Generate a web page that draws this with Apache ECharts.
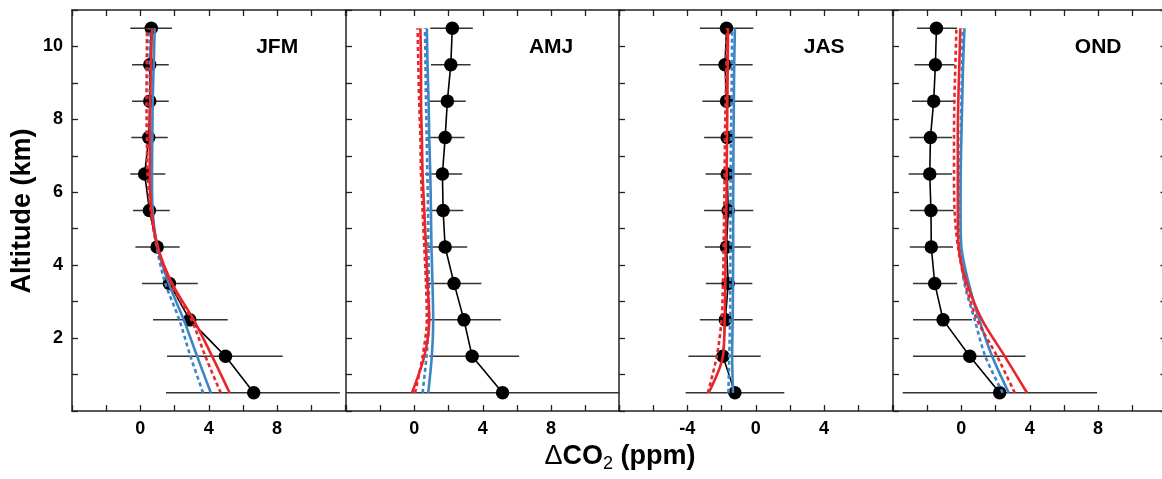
<!DOCTYPE html>
<html><head><meta charset="utf-8">
<script src="https://cdn.jsdelivr.net/npm/echarts@6/dist/echarts.min.js"></script>
<style>html,body{margin:0;padding:0;background:#fff}#c{width:1162px;height:479px}</style>
</head><body><div id="c"></div>
<script>
// ---------- data ----------
const altitudes = [0.5, 1.5, 2.5, 3.5, 4.5, 5.5, 6.5, 7.5, 8.5, 9.5, 10.5];
const seasons = ['JFM', 'AMJ', 'JAS', 'OND'];
const xRanges = [[-4, 12], [-4, 12], [-8, 8], [-4, 12]];
const xTickLabels = [[0, 4, 8], [0, 4, 8], [-4, 0, 4], [0, 4, 8]];
const yTickLabels = [2, 4, 6, 8, 10];

// observed ΔCO2 (bottom to top) with error bar ends
const obsJFM   = [6.63, 4.98, 2.89, 1.70, 0.98, 0.53, 0.25, 0.49, 0.55, 0.55, 0.64];
const errLoJFM = [1.50, 1.56, 0.74, 0.10, -0.29, -0.43, -0.59, -0.53, -0.49, -0.49, -0.59];
const errHiJFM = [11.67, 8.33, 5.11, 3.36, 2.30, 1.72, 1.46, 1.60, 1.66, 1.66, 1.85];

const obsAMJ   = [5.16, 3.38, 2.90, 2.32, 1.80, 1.68, 1.64, 1.80, 1.93, 2.13, 2.22];
const errLoAMJ = [-6.0, 0.87, 0.73, 0.68, 0.77, 0.68, 0.62, 0.77, 0.87, 0.97, 0.93];
const errHiAMJ = [16.0, 6.13, 5.06, 3.92, 3.09, 2.86, 2.80, 2.94, 3.00, 3.29, 3.42];

const obsJAS   = [-1.22, -1.92, -1.78, -1.61, -1.71, -1.61, -1.67, -1.67, -1.71, -1.80, -1.71];
const errLoJAS = [-4.10, -3.94, -3.27, -2.92, -2.98, -3.02, -2.94, -3.02, -3.12, -3.31, -3.27];
const errHiJAS = [1.67, 0.29, -0.18, -0.20, -0.29, -0.14, -0.24, -0.18, -0.18, -0.18, -0.14];

const obsOND   = [2.24, 0.49, -1.07, -1.56, -1.76, -1.78, -1.85, -1.81, -1.62, -1.52, -1.46];
const errLoOND = [-3.43, -2.83, -2.83, -2.83, -3.02, -3.02, -3.08, -3.04, -2.89, -2.75, -2.60];
const errHiOND = [7.94, 3.75, 0.62, -0.25, -0.49, -0.45, -0.55, -0.55, -0.35, -0.41, -0.25];

// model profiles (bottom to top)
const blueSolidJFM = [4.12, 3.32, 2.54, 1.66, 1.00, 0.72, 0.68, 0.70, 0.72, 0.78, 0.84];
const blueDashJFM  = [3.67, 2.93, 2.28, 1.46, 0.95, 0.68, 0.60, 0.57, 0.55, 0.54, 0.53];
const redSolidJFM  = [5.22, 4.20, 3.12, 1.85, 1.02, 0.65, 0.55, 0.55, 0.58, 0.62, 0.68];
const redDashJFM   = [4.70, 3.80, 2.99, 1.76, 0.98, 0.60, 0.42, 0.38, 0.36, 0.37, 0.39];

const blueSolidAMJ = [0.81, 1.02, 1.10, 1.06, 1.00, 0.97, 0.93, 0.87, 0.83, 0.77, 0.73];
const blueDashAMJ  = [0.48, 0.71, 0.85, 0.85, 0.82, 0.80, 0.76, 0.72, 0.68, 0.65, 0.62];
const redSolidAMJ  = [-0.14, 0.58, 0.87, 0.77, 0.68, 0.58, 0.48, 0.44, 0.39, 0.39, 0.35];
const redDashAMJ   = [0.04, 0.48, 0.73, 0.68, 0.58, 0.48, 0.39, 0.35, 0.28, 0.23, 0.19];

const blueSolidJAS = [-1.33, -1.38, -1.35, -1.33, -1.32, -1.32, -1.31, -1.30, -1.28, -1.26, -1.22];
const blueDashJAS  = [-1.60, -1.55, -1.50, -1.49, -1.48, -1.48, -1.47, -1.45, -1.42, -1.40, -1.38];
const redSolidJAS  = [-2.75, -1.92, -1.82, -1.78, -1.76, -1.72, -1.70, -1.68, -1.66, -1.64, -1.62];
const redDashJAS   = [-2.80, -2.28, -2.00, -1.92, -1.88, -1.85, -1.82, -1.80, -1.76, -1.72, -1.68];

const blueSolidOND = [2.77, 1.80, 1.05, 0.43, 0.00, -0.05, -0.04, 0.00, 0.05, 0.10, 0.18];
const blueDashOND  = [2.42, 1.40, 0.78, 0.18, -0.06, -0.06, -0.06, -0.04, 0.00, 0.04, 0.08];
const redSolidOND  = [3.84, 2.54, 1.21, 0.33, -0.16, -0.21, -0.21, -0.21, -0.18, -0.12, -0.06];
const redDashOND   = [3.12, 2.09, 0.92, 0.23, -0.20, -0.40, -0.43, -0.43, -0.41, -0.35, -0.29];

// ---------- build ----------
const obs = [obsJFM, obsAMJ, obsJAS, obsOND];
const errLo = [errLoJFM, errLoAMJ, errLoJAS, errLoOND];
const errHi = [errHiJFM, errHiAMJ, errHiJAS, errHiOND];
const models = [
  [blueDashJFM, blueSolidJFM, redDashJFM, redSolidJFM],
  [blueDashAMJ, blueSolidAMJ, redDashAMJ, redSolidAMJ],
  [blueDashJAS, blueSolidJAS, redDashJAS, redSolidJAS],
  [blueDashOND, blueSolidOND, redDashOND, redSolidOND]
];
const BLUE = '#3d86c6', RED = '#e8262b';
const modelStyles = [
  {color: BLUE, type: [4, 3]}, {color: BLUE, type: 'solid'},
  {color: RED, type: [4, 3]}, {color: RED, type: 'solid'}
];
const FONT = "'Liberation Sans', Arial, Helvetica, sans-serif";
const AXIS_COLOR = '#222';

const gridLefts = [72, 346, 619, 893];
const gridWidth = 273.5;
const gridTop = 10, gridHeight = 401;

const grid = [], xAxis = [], yAxis = [], series = [], graphic = [];
for (let i = 0; i < 4; i++) {
  grid.push({left: gridLefts[i], width: gridWidth, top: gridTop, height: gridHeight,
    containLabel: false, outerBoundsMode: 'none'});
  const baseX = {
    type: 'value', gridIndex: i, min: xRanges[i][0], max: xRanges[i][1], interval: 2,
    splitLine: {show: false},
    axisLine: {show: true, onZero: false, lineStyle: {color: AXIS_COLOR, width: 1.5}},
    axisTick: {show: true, inside: true, length: 6, lineStyle: {color: AXIS_COLOR, width: 1.3}}
  };
  const labs = xTickLabels[i];
  xAxis.push(Object.assign({}, baseX, {
    position: 'bottom',
    axisLabel: {show: true, margin: 9, color: '#000', fontFamily: FONT, fontWeight: 'bold', fontSize: 18,
      formatter: v => labs.indexOf(v) >= 0 ? String(v) : ''}
  }));
  xAxis.push(Object.assign({}, baseX, {position: 'top', axisLabel: {show: false}}));
  yAxis.push({
    type: 'value', gridIndex: i, min: 0, max: 11, interval: 1, position: 'left',
    splitLine: {show: false},
    axisLine: {show: true, onZero: false, lineStyle: {color: AXIS_COLOR, width: 1.5}},
    axisTick: {show: true, inside: true, length: 6, lineStyle: {color: AXIS_COLOR, width: 1.3}},
    axisLabel: {show: i === 0, margin: 9, color: '#000', fontFamily: FONT, fontWeight: 'bold', fontSize: 18,
      formatter: v => yTickLabels.indexOf(v) >= 0 ? String(v) : ''}
  });
}
// right frame of last panel
yAxis.push({
  type: 'value', gridIndex: 3, min: 0, max: 11, interval: 1, position: 'right',
  splitLine: {show: false}, axisLabel: {show: false},
  axisLine: {show: true, onZero: false, lineStyle: {color: AXIS_COLOR, width: 1.5}},
  axisTick: {show: true, inside: true, length: 6, lineStyle: {color: AXIS_COLOR, width: 1.3}}
});

for (let i = 0; i < 4; i++) {
  // error bars
  series.push({
    type: 'custom', xAxisIndex: 2 * i, yAxisIndex: i, z: 2, silent: true,
    data: altitudes.map((a, k) => [errLo[i][k], errHi[i][k], a]),
    encode: {x: [0, 1], y: 2},
    renderItem: (params, api) => {
      const p1 = api.coord([api.value(0), api.value(2)]);
      const p2 = api.coord([api.value(1), api.value(2)]);
      const cs = params.coordSys;
      const x1 = Math.max(cs.x, p1[0]);
      const x2 = Math.min(cs.x + cs.width, p2[0]);
      return {type: 'line', shape: {x1: x1, y1: p1[1], x2: x2, y2: p1[1]},
        style: {stroke: '#333', lineWidth: 1.5}};
    }
  });
  // observations
  series.push({
    type: 'line', xAxisIndex: 2 * i, yAxisIndex: i, z: 3,
    data: altitudes.map((a, k) => [obs[i][k], a]),
    symbol: 'circle', symbolSize: 13.5, showSymbol: true,
    itemStyle: {color: '#000'}, lineStyle: {color: '#000', width: 1.6}
  });
  // models
  models[i].forEach((arr, m) => {
    series.push({
      type: 'line', xAxisIndex: 2 * i, yAxisIndex: i, z: 4 + m,
      data: altitudes.map((a, k) => [arr[k], a]),
      symbol: 'none', smooth: 0.3, clip: true,
      lineStyle: {color: modelStyles[m].color, width: 2.6, type: modelStyles[m].type}
    });
  });
  graphic.push({
    type: 'text', x: gridLefts[i] + gridWidth * 0.75, y: 47,
    style: {text: seasons[i], fill: '#000', font: 'bold 21px ' + FONT, textAlign: 'center', textVerticalAlign: 'middle'}
  });
}

graphic.push({
  type: 'text', x: 23, y: 211, rotation: Math.PI / 2,
  style: {text: 'Altitude (km)', fill: '#000', font: 'bold 27px ' + FONT, textAlign: 'center', textVerticalAlign: 'middle'}
});
graphic.push({
  type: 'text', x: 620, y: 457,
  style: {
    text: '{d|Δ}{b|CO}{s|2}{b| (ppm)}', textAlign: 'center', textVerticalAlign: 'middle',
    rich: {
      d: {fontSize: 27, fontFamily: FONT, fontWeight: 'normal', lineHeight: 32, fill: '#000', color: '#000'},
      b: {fontSize: 27, fontFamily: FONT, fontWeight: 'bold', lineHeight: 32, fill: '#000', color: '#000'},
      s: {fontSize: 18, fontFamily: FONT, fontWeight: 'normal', lineHeight: 18, verticalAlign: 'bottom', fill: '#000', color: '#000'}
    }
  }
});

const chart = echarts.init(document.getElementById('c'), null, {renderer: 'canvas'});
chart.setOption({animation: false, backgroundColor: '#fff', grid, xAxis, yAxis, series, graphic});
</script>
</body></html>
